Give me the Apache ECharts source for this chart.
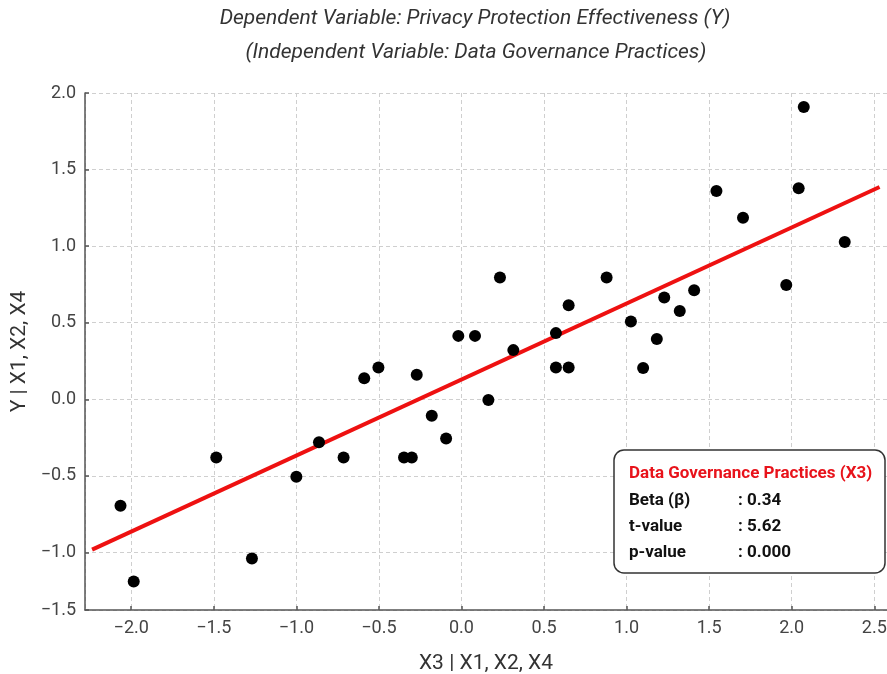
<!DOCTYPE html>
<html>
<head>
<meta charset="utf-8">
<script src="https://cdn.jsdelivr.net/npm/echarts@6/dist/echarts.min.js"></script>
<style>
html,body{margin:0;padding:0;background:#fff;}
#chart{width:887px;height:674px;}
</style>
</head>
<body>
<div id="chart"></div>
<script>
// Partial regression points (X3 | X1,X2,X4  vs  Y | X1,X2,X4)
const pointX = [-2.065, -1.985, -1.485, -1.269, -1.0, -0.863, -0.714, -0.589, -0.503, -0.348, -0.301, -0.271, -0.18, -0.093, -0.019, 0.082, 0.163, 0.233, 0.314, 0.572, 0.572, 0.649, 0.649, 0.879, 1.026, 1.10, 1.183, 1.228, 1.322, 1.409, 1.544, 1.705, 1.967, 2.042, 2.073, 2.321];
const pointY = [-0.695, -1.19, -0.38, -1.04, -0.506, -0.28, -0.38, 0.138, 0.207, -0.38, -0.38, 0.16, -0.108, -0.256, 0.414, 0.414, -0.005, 0.795, 0.321, 0.432, 0.207, 0.207, 0.614, 0.795, 0.508, 0.204, 0.393, 0.664, 0.577, 0.712, 1.36, 1.186, 0.747, 1.378, 1.908, 1.027];
// Fitted line endpoints
const fitLineX = [-2.237, 2.532];
const fitLineY = [-0.982, 1.386];
// Axis ranges
const xRange = [-2.28, 2.577];
const yRange = [-1.376, 2.0];
// Texts
const titleLines = ['Dependent Variable: Privacy Protection Effectiveness (Y)', '(Independent Variable: Data Governance Practices)'];
const xAxisTitle = 'X3 | X1, X2, X4';
const yAxisTitle = 'Y | X1, X2, X4';
const statsHeader = 'Data Governance Practices (X3)';
const statsNames = ['Beta (\u03B2)', 't-value', 'p-value'];
const statsValues = [': 0.34', ': 5.62', ': 0.000'];

const scatterData = pointX.map((x, i) => [x, pointY[i]]);
const lineData = fitLineX.map((x, i) => [x, fitLineY[i]]);

function fmt(v) {
  const r = Math.round(v * 2) / 2;
  const s = Math.abs(r).toFixed(1);
  return r < 0 ? '\u2212' + s : s;
}

const chart = echarts.init(document.getElementById('chart'), null, {renderer: 'canvas'});

const graphics = [
  {type: 'text', x: 475, y: 19, style: {text: titleLines[0], font: 'italic 21px Roboto', fill: '#333', textAlign: 'center', textVerticalAlign: 'middle'}},
  {type: 'text', x: 476, y: 53, style: {text: titleLines[1], font: 'italic 21px Roboto', fill: '#333', textAlign: 'center', textVerticalAlign: 'middle'}},
  {type: 'rect', shape: {x: 614, y: 450, width: 271, height: 123, r: 10}, style: {fill: '#fff', stroke: '#333', lineWidth: 1.5}, z: 100},
  {type: 'text', x: 629, y: 474, z: 101, style: {text: statsHeader, font: 'bold 17px Roboto', fill: '#e8131b', textVerticalAlign: 'middle'}}
];
statsNames.forEach((n, i) => {
  graphics.push({type: 'text', x: 629, y: 501 + i * 26, z: 101, style: {text: n, font: 'bold 17px Roboto', fill: '#111', textVerticalAlign: 'middle'}});
  graphics.push({type: 'text', x: 738, y: 501 + i * 26, z: 101, style: {text: statsValues[i], font: 'bold 17px Roboto', fill: '#111', textVerticalAlign: 'middle'}});
});

const axisCommon = {
  type: 'value',
  splitNumber: 10,
  minInterval: 0.5,
  maxInterval: 0.5,
  axisLine: {show: true, onZero: false, lineStyle: {color: '#555', width: 1.5}},
  axisTick: {show: true, inside: true, length: 4, lineStyle: {color: '#555', width: 1.5}},
  splitLine: {show: true, lineStyle: {color: '#cfcfcf', type: [4, 3], width: 1}},
  axisLabel: {color: '#444', fontSize: 18, fontFamily: 'Roboto', formatter: fmt},
  nameLocation: 'middle',
  nameTextStyle: {color: '#333', fontSize: 21, fontFamily: 'Roboto'}
};

chart.setOption({
  animation: false,
  backgroundColor: '#fff',
  grid: {left: 85, right: 0, top: 93, bottom: 64, containLabel: false, outerBoundsMode: 'none'},
  xAxis: Object.assign({}, axisCommon, {
    min: xRange[0], max: xRange[1],
    name: xAxisTitle, nameGap: 43,
    axisLabel: Object.assign({}, axisCommon.axisLabel, {margin: 9, showMinLabel: false, showMaxLabel: false})
  }),
  yAxis: Object.assign({}, axisCommon, {
    min: yRange[0], max: yRange[1],
    name: yAxisTitle, nameGap: 48,
    axisLabel: Object.assign({}, axisCommon.axisLabel, {margin: 9})
  }),
  series: [
    {type: 'scatter', data: scatterData, symbol: 'circle', symbolSize: 12, itemStyle: {color: '#000', opacity: 1}, z: 3},
    {type: 'line', data: lineData, showSymbol: false, symbol: 'none', lineStyle: {color: '#ee1111', width: 4}, z: 2}
  ],
  graphic: graphics
});
</script>
</body>
</html>
